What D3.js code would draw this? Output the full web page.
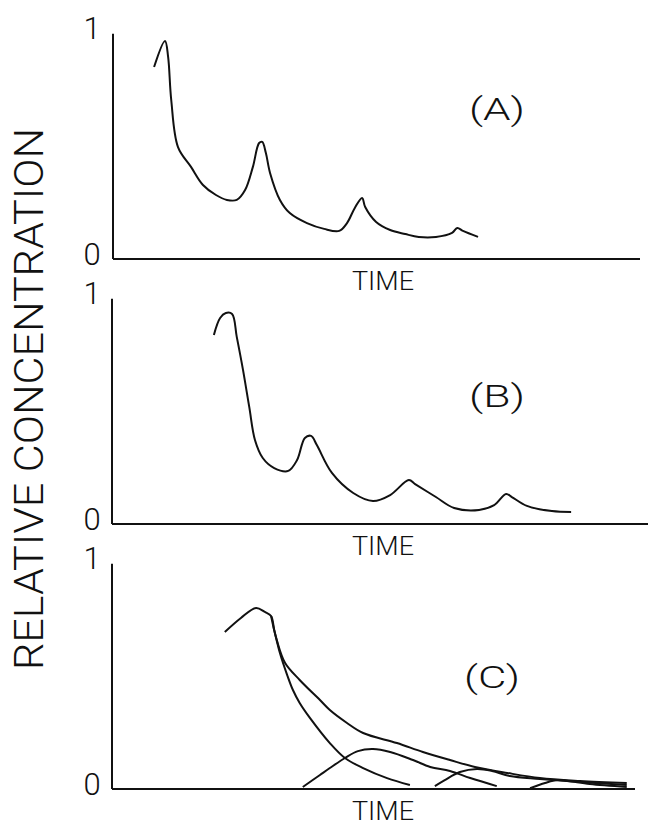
<!DOCTYPE html>
<html>
<head>
<meta charset="utf-8">
<script src="https://cdn.jsdelivr.net/npm/d3@7"></script>
<style>
  body { margin: 0; background: #fff; }
  text { font-family: Roboto, "Liberation Sans", Arial, sans-serif; font-weight: 300; fill: #111; }
</style>
</head>
<body>
<div id="chart"></div>
<script>
// Three stacked panels of relative concentration vs. time

const width = 651;
const height = 826;

const yTicks = [0, 1];
const panelNames = ["(A)", "(B)", "(C)"];

// time is given as percent of the axis length
const timeA = [7.9, 10.0, 10.6, 11.2, 12.5, 15.0, 17.3, 19.8, 21.9, 23.8, 25.4, 26.9, 28.1, 28.7, 29.4, 30.2,
  32.1, 34.0, 37.3, 40.6, 43.5, 45.0, 46.5, 47.9, 48.5, 50.6, 53.3, 56.2, 58.8, 62.1, 65.2, 66.2, 67.3, 70.2];
const concA = [0.861, 0.978, 0.906, 0.713, 0.502, 0.413, 0.332, 0.287, 0.265, 0.265, 0.309, 0.413, 0.520, 0.525, 0.475, 0.386,
  0.265, 0.206, 0.161, 0.135, 0.126, 0.161, 0.229, 0.274, 0.233, 0.166, 0.130, 0.112, 0.099, 0.099, 0.117, 0.139, 0.126, 0.099];

const timeB = [19.4, 20.6, 21.7, 22.9, 23.8, 25.0, 26.2, 27.3, 28.8, 31.0, 33.7, 35.4, 36.9, 38.1, 39.2, 42.1,
  46.2, 50.0, 53.3, 56.9, 58.1, 62.1, 65.6, 70.4, 73.3, 75.6, 76.7, 79.6, 84.4, 88.1];
const concB = [0.848, 0.924, 0.946, 0.942, 0.839, 0.691, 0.525, 0.377, 0.296, 0.251, 0.238, 0.287, 0.386, 0.395, 0.354, 0.229,
  0.139, 0.103, 0.130, 0.197, 0.179, 0.121, 0.072, 0.063, 0.085, 0.135, 0.121, 0.081, 0.058, 0.054];

// panel C: first pulse, the summed curve and the later pulses
const timeC1 = [21.5, 24.6, 27.5, 29.2, 30.4, 31.0, 32.1, 33.5, 34.6, 35.9, 37.9, 41.7, 44.6, 48.1, 52.7, 57.1];
const concC1 = [0.704, 0.767, 0.812, 0.794, 0.776, 0.713, 0.610, 0.511, 0.444, 0.386, 0.318, 0.206, 0.139, 0.094, 0.049, 0.018];

const timeCSum = [30.4, 31.5, 33.1, 35.9, 39.8, 41.7, 45.0, 48.1, 54.6, 59.6, 64.8, 69.6, 75.8, 82.1, 89.8, 98.8];
const concCSum = [0.776, 0.668, 0.565, 0.489, 0.399, 0.354, 0.296, 0.251, 0.206, 0.166, 0.130, 0.099, 0.072, 0.049, 0.036, 0.027];

const timeC2 = [36.5, 39.8, 41.7, 44.6, 47.1, 50.0, 53.3, 57.7, 61.0, 64.8, 68.7, 73.8];
const concC2 = [0.009, 0.063, 0.094, 0.139, 0.170, 0.179, 0.166, 0.130, 0.099, 0.081, 0.049, 0.013];

const timeC3 = [61.9, 63.8, 66.7, 70.0, 72.9, 76.3, 82.1, 89.8, 98.8];
const concC3 = [0.013, 0.040, 0.076, 0.090, 0.081, 0.058, 0.045, 0.031, 0.018];

const timeC4 = [80.2, 83.1, 85.4, 87.5, 91.7, 98.8];
const concC4 = [0.004, 0.027, 0.040, 0.036, 0.022, 0.009];

const svg = d3.select("#chart")
  .append("svg")
  .attr("width", width)
  .attr("height", height);

// pixel frame of each panel (zero line, left edge, right end of axis)
const panels = [
  { zero: 259, left: 113, right: 640, series: [[timeA, concA]] },
  { zero: 524, left: 112, right: 648, series: [[timeB, concB]] },
  { zero: 789, left: 112, right: 635, series: [[timeC1, concC1], [timeCSum, concCSum], [timeC2, concC2], [timeC3, concC3], [timeC4, concC4]] }
];

const xScale = d3.scaleLinear().domain([0, 100]).range([113, 633]);

panels.forEach(function(p, i) {
  const yScale = d3.scaleLinear().domain([0, 1]).range([p.zero, p.zero - 223]);
  const g = svg.append("g");

  // axes
  g.append("line")
    .attr("x1", p.left).attr("x2", p.left)
    .attr("y1", yScale(0)).attr("y2", yScale(1.01))
    .attr("stroke", "#111").attr("stroke-width", 2);
  g.append("line")
    .attr("x1", p.left).attr("x2", p.right)
    .attr("y1", yScale(0)).attr("y2", yScale(0))
    .attr("stroke", "#111").attr("stroke-width", 2);

  // 0 and 1 labels
  g.selectAll(".tick")
    .data(yTicks)
    .enter()
    .append("text")
      .attr("class", "tick")
      .attr("x", 92)
      .attr("y", d => yScale(d) + (d === 0 ? 6 : 3))
      .attr("text-anchor", "middle")
      .attr("font-size", "31px")
      .text(d => d);

  g.append("text")
    .attr("x", 383)
    .attr("y", yScale(0) + 31)
    .attr("text-anchor", "middle")
    .attr("font-size", "25px")
    .attr("textLength", 62)
    .attr("lengthAdjust", "spacingAndGlyphs")
    .text("TIME");

  g.append("text")
    .attr("x", i === 2 ? 492 : 497)
    .attr("y", yScale(0) - (i === 0 ? 139 : i === 1 ? 117 : 101))
    .attr("text-anchor", "middle")
    .attr("font-size", "31px")
    .attr("textLength", 56)
    .attr("lengthAdjust", "spacingAndGlyphs")
    .text(panelNames[i]);

  const line = d3.line()
    .x(d => xScale(d[0]))
    .y(d => yScale(d[1]))
    .curve(d3.curveCatmullRom.alpha(0.5));

  p.series.forEach(function(s) {
    const pts = s[0].map((t, k) => [t, s[1][k]]);
    g.append("path")
      .attr("d", line(pts))
      .attr("fill", "none")
      .attr("stroke", "#111")
      .attr("stroke-width", 2);
  });
});

// shared y label
svg.append("text")
  .attr("transform", "translate(43,399) rotate(-90)")
  .attr("text-anchor", "middle")
  .attr("font-size", "40px")
  .attr("textLength", 542)
  .attr("lengthAdjust", "spacingAndGlyphs")
  .text("RELATIVE CONCENTRATION");
</script>
</body>
</html>
